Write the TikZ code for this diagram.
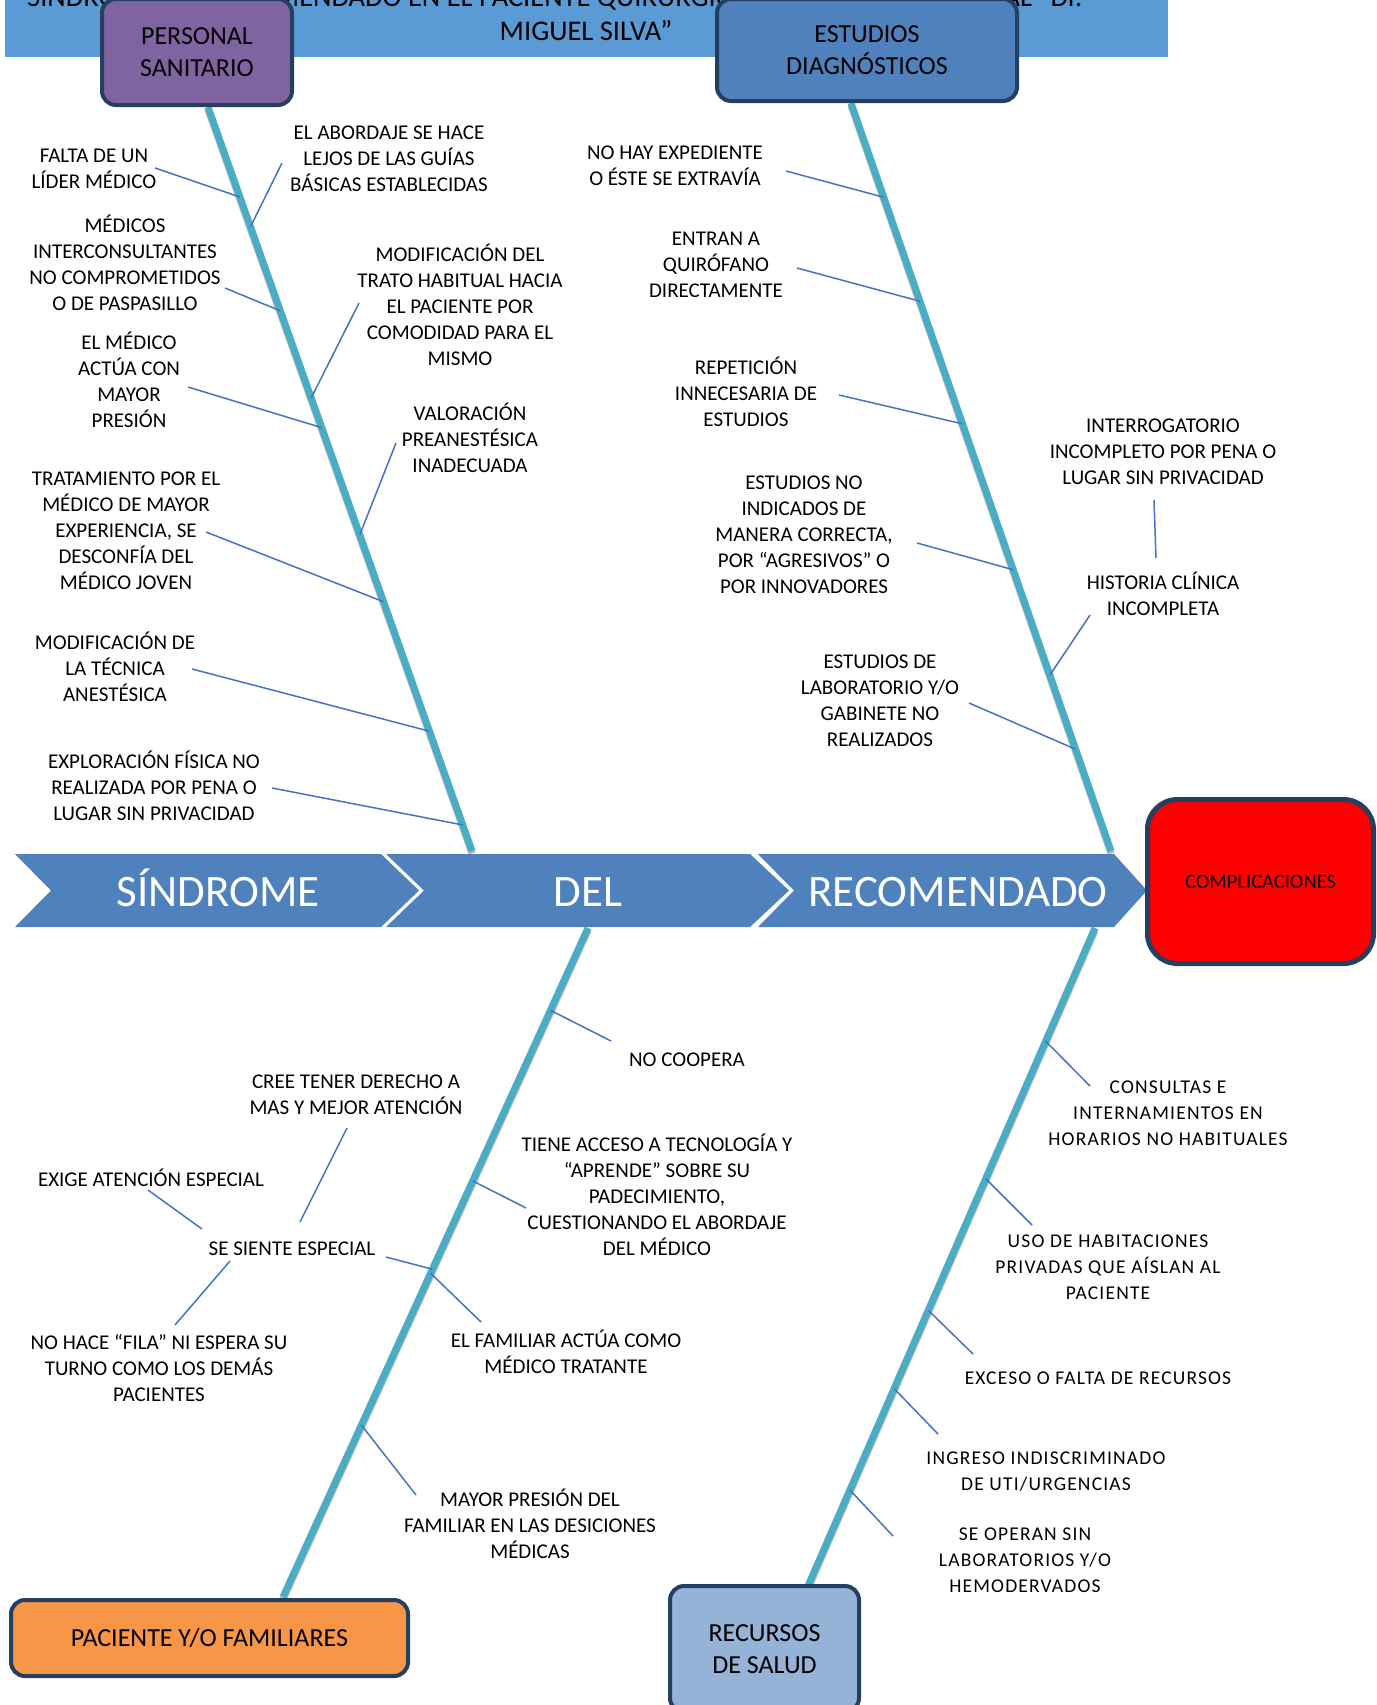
\documentclass[tikz,border=0pt]{standalone}
\usepackage{fontspec}
\setmainfont{Carlito}
\newfontfamily\widefont[LetterSpace=6]{Carlito}
\usetikzlibrary{positioning,calc}
\definecolor{bannerblue}{HTML}{5B9BD5}
\definecolor{boxnavy}{HTML}{243F60}
\definecolor{purplebox}{HTML}{8064A2}
\definecolor{estbox}{HTML}{4F81BD}
\definecolor{spineblue}{HTML}{4F81BD}
\definecolor{fishbone}{HTML}{4BACC6}
\definecolor{twigblue}{HTML}{4472C4}
\definecolor{orangebox}{HTML}{F79646}
\definecolor{recbox}{HTML}{95B3D7}

\begin{document}
\begin{tikzpicture}[
    x=1pt, y=-1pt,
    box/.style ={
        rectangle,
        rounded corners=14pt,
        draw=boxnavy,
        line width=4pt,
        inner sep=0pt,
        align=center,
        font=\fontsize{26}{32}\selectfont
    },
    lbl/.style ={
        align=center,
        inner sep=0pt,
        font=\fontsize{21}{26}\selectfont
    },
    rlbl/.style ={
        align=center,
        inner sep=0pt,
        font=\widefont\fontsize{19.5}{26}\selectfont
    },
    bone/.style ={
        draw=fishbone,
        line width=7pt,
        preaction={draw=gray!55, line width=7pt, transform canvas={yshift=-2.5pt}}
    },
    twig/.style ={
        draw=twigblue,
        line width=1.5pt
    },
    chev/.style ={
        fill=spineblue
    },
    spinetext/.style ={
        anchor=base,
        white,
        inner sep=0pt,
        font=\fontsize{45}{54}\selectfont
    }
    ]
    \useasboundingbox (0,0) rectangle (1376,1705);
    \fill[white] (0,0) rectangle (1376,1705);

    \begin{scope}
        \clip (5,0) rectangle (1168,57);
        \fill[bannerblue] (5,0) rectangle (1168,57);
        \node[anchor=base west, inner sep=0pt, font=\fontsize{28.5}{34}\selectfont] (titulo) at (27,6)
            {SÍNDROME DEL RECOMENDADO EN EL PACIENTE QUIRÚRGICO DEL HOSPITAL GENERAL “Dr.};
        \node[anchor=base, inner sep=0pt, font=\fontsize{28.5}{34}\selectfont] (silva) at (586,40) {MIGUEL SILVA”};
    \end{scope}

    \coordinate (ps) at (208,107);   \coordinate (pe) at (472,851);
    \coordinate (es) at (851,103);   \coordinate (ee) at (1111,851);
    \coordinate (pa) at (588,928);   \coordinate (pf) at (283,1597);
    \coordinate (re) at (1095,928);  \coordinate (rf) at (808,1586);

    \draw[bone] (ps) -- (pe);
    \draw[bone] (es) -- (ee);
    \draw[bone] (pa) -- (pf);
    \draw[bone] (re) -- (rf);

    \path (ps) -- (pe)
        coordinate[pos=.121] (ps1) coordinate[pos=.161] (ps2) coordinate[pos=.274] (ps3)
        coordinate[pos=.391] (ps4) coordinate[pos=.431] (ps5) coordinate[pos=.575] (ps6)
        coordinate[pos=.665] (ps7) coordinate[pos=.839] (ps8) coordinate[pos=.965] (ps9);
    \path (es) -- (ee)
        coordinate[pos=.126] (es1) coordinate[pos=.265] (es2) coordinate[pos=.429] (es3)
        coordinate[pos=.624] (es4) coordinate[pos=.765] (es6) coordinate[pos=.864] (es7);
    \path (pa) -- (pf)
        coordinate[pos=.123] (pa1) coordinate[pos=.378] (pa2) coordinate[pos=.510] (pa4)
        coordinate[pos=.516] (pa5) coordinate[pos=.743] (pa6);
    \path (re) -- (rf)
        coordinate[pos=.172] (re1) coordinate[pos=.381] (re2) coordinate[pos=.581] (re3)
        coordinate[pos=.700] (re4) coordinate[pos=.854] (re5);

    \coordinate (t-lider) at (155,168);
    \coordinate (t-guias) at (282,163);
    \coordinate (t-interc) at (225,288);
    \coordinate (t-trato) at (359,303);
    \coordinate (t-presion) at (188,387);
    \coordinate (t-valoracion) at (396,443);
    \coordinate (t-experiencia) at (206,532);
    \coordinate (t-tecnica) at (192,669);
    \coordinate (t-exploracion) at (272,788);
    \draw[twig] (t-lider) -- (ps1);
    \draw[twig] (t-guias) -- (ps2);
    \draw[twig] (t-interc) -- (ps3);
    \draw[twig] (t-trato) -- (ps4);
    \draw[twig] (t-presion) -- (ps5);
    \draw[twig] (t-valoracion) -- (ps6);
    \draw[twig] (t-experiencia) -- (ps7);
    \draw[twig] (t-tecnica) -- (ps8);
    \draw[twig] (t-exploracion) -- (ps9);

    \coordinate (t-expediente) at (786,171);
    \coordinate (t-quirofano) at (797,268);
    \coordinate (t-repeticion) at (839,395);
    \coordinate (t-indicados) at (917,543);
    \coordinate (t-interrog) at (1154,500);
    \coordinate (t-histsup) at (1156,558);
    \coordinate (t-historia) at (1090,615);
    \coordinate (t-laboratorio) at (969,703);
    \draw[twig] (t-expediente) -- (es1);
    \draw[twig] (t-quirofano) -- (es2);
    \draw[twig] (t-repeticion) -- (es3);
    \draw[twig] (t-indicados) -- (es4);
    \draw[twig] (t-interrog) -- (t-histsup);
    \draw[twig] (t-historia) -- (es6);
    \draw[twig] (t-laboratorio) -- (es7);

    \coordinate (t-coopera) at (611,1041);
    \coordinate (t-tecnologia) at (526,1208);
    \coordinate (t-especial) at (386,1257);
    \coordinate (t-familiar) at (481,1322);
    \coordinate (t-desiciones) at (416,1495);
    \coordinate (t-cree) at (347,1128);
    \coordinate (t-cree2) at (300,1222);
    \coordinate (t-exige) at (148,1190);
    \coordinate (t-exige2) at (202,1229);
    \coordinate (t-fila) at (230,1261);
    \coordinate (t-fila2) at (175,1325);
    \draw[twig] (pa1) -- (t-coopera);
    \draw[twig] (pa2) -- (t-tecnologia);
    \draw[twig] (t-especial) -- (pa4);
    \draw[twig] (pa5) -- (t-familiar);
    \draw[twig] (pa6) -- (t-desiciones);
    \draw[twig] (t-cree) -- (t-cree2);
    \draw[twig] (t-exige) -- (t-exige2);
    \draw[twig] (t-fila) -- (t-fila2);

    \coordinate (t-horarios) at (1090,1086);
    \coordinate (t-habitaciones) at (1032,1225);
    \coordinate (t-exceso) at (973,1354);
    \coordinate (t-ingreso) at (938,1434);
    \coordinate (t-operan) at (893,1536);
    \draw[twig] (re1) -- (t-horarios);
    \draw[twig] (re2) -- (t-habitaciones);
    \draw[twig] (re3) -- (t-exceso);
    \draw[twig] (re4) -- (t-ingreso);
    \draw[twig] (re5) -- (t-operan);

    \node[box, fill=purplebox, minimum width=190, minimum height=106] (personal) at (197,52) {PERSONAL\\SANITARIO};
    \node[box, fill=estbox, minimum width=300, minimum height=102] (estudios) at (867,50) {ESTUDIOS\\DIAGNÓSTICOS};
    \node[box, fill=orangebox, minimum width=397, minimum height=76] (paciente) at (209.5,1638) {PACIENTE Y/O FAMILIARES};
    \node[box, fill=recbox, minimum width=189, minimum height=126] (recursos) at (764.5,1649) {RECURSOS\\DE SALUD};

    \fill[chev] (15,854) -- (381,854) -- (419,890.5) -- (381,927) -- (15,927) -- (51,890.5) -- cycle;
    \fill[chev] (386,854) -- (750,854) -- (789,890.5) -- (750,927) -- (386,927) -- (424,890.5) -- cycle;
    \fill[chev] (758,854) -- (1114,854) -- (1147,890.5) -- (1114,927) -- (758,927) -- (794,890.5) -- cycle;
    \node[spinetext] (sindrome) at (218,906) {SÍNDROME};
    \node[spinetext] (del) at (588,906) {DEL};
    \node[spinetext] (recomendado) at (958,906) {RECOMENDADO};

    \node[box, fill=red, line width=5pt, rounded corners=30pt, minimum width=226, minimum height=164,
          font=\fontsize{20.5}{25}\selectfont] (complicaciones) at (1260.5,881.5) {COMPLICACIONES};

    \node[lbl] (lider) at (94,169) {FALTA DE UN\\LÍDER MÉDICO};
    \node[lbl] (guias) at (389,159) {EL ABORDAJE SE HACE\\LEJOS DE LAS GUÍAS\\BÁSICAS ESTABLECIDAS};
    \node[lbl] (interc) at (125,263) {MÉDICOS\\INTERCONSULTANTES\\NO COMPROMETIDOS\\O DE PASPASILLO};
    \node[lbl] (trato) at (460,305) {MODIFICACIÓN DEL\\TRATO HABITUAL HACIA\\EL PACIENTE POR\\COMODIDAD PARA EL\\MISMO};
    \node[lbl] (presion) at (129,380) {EL MÉDICO\\ACTÚA CON\\MAYOR\\PRESIÓN};
    \node[lbl] (valoracion) at (470,438) {VALORACIÓN\\PREANESTÉSICA\\INADECUADA};
    \node[lbl] (experiencia) at (126,531) {TRATAMIENTO POR EL\\MÉDICO DE MAYOR\\EXPERIENCIA, SE\\DESCONFÍA DEL\\MÉDICO JOVEN};
    \node[lbl] (tecnica) at (115,667) {MODIFICACIÓN DE\\LA TÉCNICA\\ANESTÉSICA};
    \node[lbl] (exploracion) at (154,786) {EXPLORACIÓN FÍSICA NO\\REALIZADA POR PENA O\\LUGAR SIN PRIVACIDAD};

    \node[lbl] (expediente) at (675,166) {NO HAY EXPEDIENTE\\O ÉSTE SE EXTRAVÍA};
    \node[lbl] (quirofano) at (716,265) {ENTRAN A\\QUIRÓFANO\\DIRECTAMENTE};
    \node[lbl] (repeticion) at (746,392) {REPETICIÓN\\INNECESARIA DE\\ESTUDIOS};
    \node[lbl] (indicados) at (804,535) {ESTUDIOS NO\\INDICADOS DE\\MANERA CORRECTA,\\POR “AGRESIVOS” O\\POR INNOVADORES};
    \node[lbl] (interrogatorio) at (1163,452) {INTERROGATORIO\\INCOMPLETO POR PENA O\\LUGAR SIN PRIVACIDAD};
    \node[lbl] (historia) at (1163,594) {HISTORIA CLÍNICA\\INCOMPLETA};
    \node[lbl] (laboratorio) at (880,701) {ESTUDIOS DE\\LABORATORIO Y/O\\GABINETE NO\\REALIZADOS};

    \node[lbl] (coopera) at (687,1060) {NO COOPERA};
    \node[lbl] (cree) at (356,1095) {CREE TENER DERECHO A\\MAS Y MEJOR ATENCIÓN};
    \node[lbl] (exige) at (151,1178) {EXIGE ATENCIÓN ESPECIAL};
    \node[lbl] (especial) at (292,1249) {SE SIENTE ESPECIAL};
    \node[lbl] (tecnologia) at (657,1195) {TIENE ACCESO A TECNOLOGÍA Y\\“APRENDE” SOBRE SU\\PADECIMIENTO,\\CUESTIONANDO EL ABORDAJE\\DEL MÉDICO};
    \node[lbl] (fila) at (159,1368) {NO HACE “FILA” NI ESPERA SU\\TURNO COMO LOS DEMÁS\\PACIENTES};
    \node[lbl] (familiar) at (566,1352) {EL FAMILIAR ACTÚA COMO\\MÉDICO TRATANTE};
    \node[lbl] (desiciones) at (530,1524) {MAYOR PRESIÓN DEL\\FAMILIAR EN LAS DESICIONES\\MÉDICAS};

    \node[rlbl] (horarios) at (1168,1113) {CONSULTAS E\\INTERNAMIENTOS EN\\HORARIOS NO HABITUALES};
    \node[rlbl] (habitaciones) at (1108,1267) {USO DE HABITACIONES\\PRIVADAS QUE AÍSLAN AL\\PACIENTE};
    \node[rlbl] (exceso) at (1098,1378) {EXCESO O FALTA DE RECURSOS};
    \node[rlbl] (ingreso) at (1046,1472) {INGRESO INDISCRIMINADO\\DE UTI/URGENCIAS};
    \node[rlbl] (operan) at (1025,1560) {SE OPERAN SIN\\LABORATORIOS Y/O\\HEMODERVADOS};
\end{tikzpicture}
\end{document}
